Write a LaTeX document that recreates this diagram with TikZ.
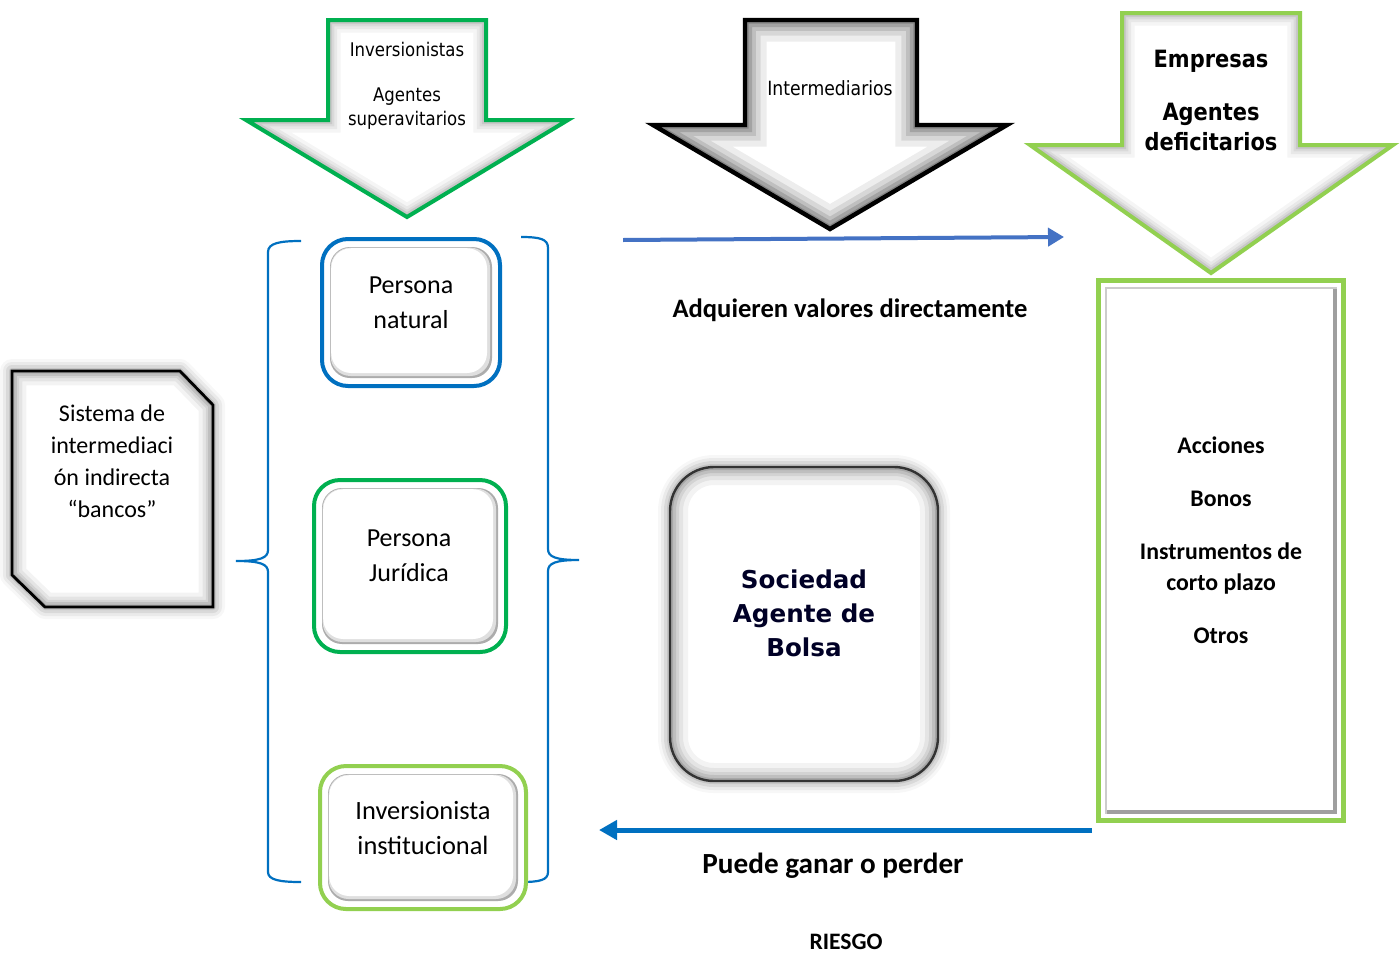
\documentclass[tikz,border=0pt]{standalone}
\usepackage{fontspec}
\setmainfont{Carlito}
\newfontfamily\tah[FakeStretch=0.88]{DejaVu Sans}
\newfontfamily\verd{DejaVu Sans}
\usetikzlibrary{arrows.meta}
\definecolor{cgreen}{RGB}{0,176,80}
\definecolor{clgreen}{RGB}{146,208,80}
\definecolor{cblue}{RGB}{0,112,192}
\definecolor{cbluetwo}{RGB}{68,114,196}
\newcommand\myinglow[4]{%
  \begin{scope}
    \clip #2;
    \foreach \w/\o in {18/0.04,13/0.05,9/0.06,6/0.08,3/0.1}{\draw[#1,line width=#3*\w pt,opacity=#4*\o,line join=miter] #2;}
  \end{scope}}
\newcommand\myoutglow[1]{%
  \foreach \w/\o in {12/0.03,9/0.05,6/0.07,3/0.09}{\draw[black,line width=\w pt,opacity=\o,line join=round] #1;}}
\tikzset{
  pbox/.style={draw=#1, line width=2pt, rounded corners=13pt, fill=white, inner sep=0pt,
    path picture={
      \fill[gray!65, rounded corners=10pt] ([shift={(4pt,4pt)}]path picture bounding box.south west) rectangle ([shift={(-4pt,-4pt)}]path picture bounding box.north east);
      \fill[gray!25, rounded corners=10pt] ([shift={(4.3pt,5pt)}]path picture bounding box.south west) rectangle ([shift={(-5pt,-4.3pt)}]path picture bounding box.north east);
      \fill[white, rounded corners=10pt] ([shift={(4.6pt,6.5pt)}]path picture bounding box.south west) rectangle ([shift={(-6.5pt,-4.6pt)}]path picture bounding box.north east);
    }},
  lbl/.style={align=center, inner sep=0pt, text=black},
  brace/.style={draw=cblue, line width=1.1pt},
}
\begin{document}
\begin{tikzpicture}[x=0.5pt,y=-0.5pt]
\useasboundingbox (0,0) rectangle (1400,953);
\fill[white] (0,0) rectangle (1400,953);

% ---------- top arrows ----------
\def\arrA{(328,20) -- (486,20) -- (486,120) -- (568,120) -- (407,217) -- (246,120) -- (328,120) -- cycle}
\def\arrB{(745,20) -- (917,20) -- (917,125) -- (1007,125) -- (830,229) -- (653,125) -- (745,125) -- cycle}
\def\arrC{(1122,13) -- (1300,13) -- (1300,145) -- (1393,145) -- (1211,273) -- (1030,145) -- (1122,145) -- cycle}
\fill[white] \arrA; \myinglow{black}{\arrA}{0.7}{1}
\draw[cgreen, line width=2pt, line join=miter] \arrA;
\fill[white] \arrB; \myinglow{black}{\arrB}{1.2}{1.8}
\draw[black, line width=2.2pt, line join=miter] \arrB;
\fill[white] \arrC; \myinglow{black}{\arrC}{0.7}{1}
\draw[clgreen, line width=2pt, line join=miter] \arrC;

\node[lbl, font=\tah\fontsize{9.4}{12}\selectfont] (inv) at (407,86) {Inversionistas\\[10.5pt]Agentes\\superavitarios};
\node[lbl, font=\tah\fontsize{9.8}{12}\selectfont] (inter) at (830,88) {Intermediarios};
\node[lbl, font=\tah\bfseries\fontsize{11.9}{15}\selectfont] (emp) at (1211,100) {Empresas\\[11.5pt]Agentes\\deficitarios};

% ---------- left snipped box ----------
\def\snip{(12,371) -- (180,371) -- (213,405) -- (213,607) -- (45,607) -- (12,575) -- cycle}
\myoutglow{\snip}
\fill[white] \snip; \myinglow{black}{\snip}{0.8}{1.2}
\draw[black, line width=1.4pt, line join=miter] \snip;
\node[lbl, font=\fontsize{12}{16}\selectfont] (sis) at (112,461) {Sistema de\\intermediaci\\ón indirecta\\“bancos”};

% ---------- braces ----------
\draw[brace] (301,241) .. controls (280,241) and (268,243) .. (268,252) -- (268,550)
  .. controls (268,558) and (260,561) .. (236,561)
  .. controls (260,561) and (268,564) .. (268,572) -- (268,872)
  .. controls (268,880) and (280,882) .. (301,882);
\draw[brace] (521,237) .. controls (540,237) and (548,239) .. (548,248) -- (548,549)
  .. controls (548,557) and (556,560) .. (579,560)
  .. controls (556,560) and (548,563) .. (548,571) -- (548,872)
  .. controls (548,880) and (540,882) .. (521,882);

% ---------- persona boxes ----------
\node[pbox=cblue, minimum width=89pt, minimum height=73.5pt] (pnb) at (411,312.5) {};
\node[lbl, font=\fontsize{13}{17.5}\selectfont] (pn) at (411,303) {Persona\\natural};
\node[pbox=cgreen, minimum width=96pt, minimum height=86pt] (pjb) at (410,566) {};
\node[lbl, font=\fontsize{13}{17.5}\selectfont] (pj) at (409,556) {Persona\\Jurídica};
\node[pbox=clgreen, minimum width=103pt, minimum height=71.5pt] (iib) at (423,837.5) {};
\node[lbl, font=\fontsize{13.2}{17.5}\selectfont] (ii) at (423,828) {Inversionista\\institucional};

% ---------- Sociedad box ----------
\def\soc{[rounded corners=22pt] (670,467) rectangle (938,781)}
\myoutglow{\soc}
\fill[white] \soc; \myinglow{black}{\soc}{1.0}{1.2}
\draw[black!80, line width=1.2pt] \soc;
\node[lbl, font=\verd\bfseries\fontsize{12.3}{17}\selectfont, text=black!85!blue] (sab) at (804,613) {Sociedad\\Agente de\\Bolsa};

% ---------- right box ----------
\draw[clgreen, line width=2.5pt, fill=white] (1098,280) rectangle (1343,820);
\draw[gray!40, line width=0.8pt] (1106,288) rectangle (1336,813);
\draw[gray!75, line width=1.6pt] (1335,289) -- (1335,812) -- (1107,812);
\node[lbl, font=\bfseries\fontsize{11.9}{15.5}\selectfont] (vals) at (1221,540) {Acciones\\[11pt]Bonos\\[11pt]Instrumentos de\\corto plazo\\[11pt]Otros};

% ---------- connectors ----------
\coordinate (c1s) at (623,240);
\coordinate (c1e) at (1064,237);
\draw[cbluetwo, line width=2pt, -{Triangle[length=8pt,width=9pt]}] (c1s) -- (c1e);
\coordinate (c2s) at (1092,830);
\coordinate (c2e) at (599,830);
\draw[cblue, line width=2.5pt, -{Triangle[length=9pt,width=9.5pt]}] (c2s) -- (c2e);

\node[lbl, font=\bfseries\fontsize{13.3}{16}\selectfont] (adq) at (850,310) {Adquieren valores directamente};
\node[lbl, font=\bfseries\fontsize{14.6}{17}\selectfont] (pg) at (833,866) {Puede ganar o perder};
\node[lbl, font=\bfseries\fontsize{11.8}{14}\selectfont] (rie) at (846,942) {RIESGO};
\end{tikzpicture}
\end{document}
